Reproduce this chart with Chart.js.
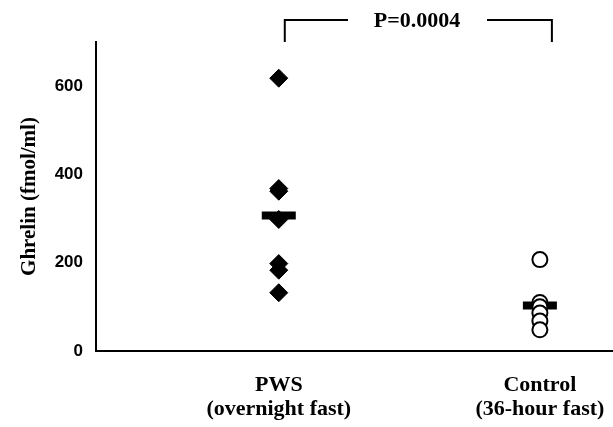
<!DOCTYPE html>
<html>
<head>
  <title>Ghrelin PWS vs Control</title>
  <script src="https://cdn.jsdelivr.net/npm/chart.js"></script>
  <style>
    body { margin: 0; background: white; }
    #wrap { width: 613px; height: 427px; }
  </style>
</head>
<body>
  <div id="wrap"><canvas id="chart"></canvas></div>

  <script>
    // values (fmol/ml)
    const groups = ['PWS', 'Control'];
    const groupLabels = [['PWS', '(overnight fast)'], ['Control', '(36-hour fast)']];
    const pwsValues = [618, 368, 362, 298, 198, 183, 132];
    const controlValues = [207, 110, 100, 86, 68, 48];
    const groupMeans = [307, 103];
    const yTicks = [0, 200, 400, 600];
    const pLabel = 'P=0.0004';

    const black = '#000';

    // bracket with the p-value above the two groups
    const bracket = {
      id: 'bracket',
      afterDraw(chart) {
        const ctx = chart.ctx;
        const x = chart.scales.x;
        const x1 = x.getPixelForValue(1) + 6;
        const x2 = x.getPixelForValue(2) + 12;
        const yTop = 20, yBot = 42;
        ctx.save();
        ctx.strokeStyle = black;
        ctx.lineWidth = 2;
        ctx.beginPath();
        ctx.moveTo(x1, yBot); ctx.lineTo(x1, yTop); ctx.lineTo(348, yTop);
        ctx.moveTo(487, yTop); ctx.lineTo(x2, yTop); ctx.lineTo(x2, yBot);
        ctx.stroke();
        ctx.fillStyle = black;
        ctx.font = 'bold 22px "Liberation Serif", serif';
        ctx.textAlign = 'center';
        ctx.textBaseline = 'middle';
        ctx.fillText(pLabel, 417, 21);
        ctx.restore();
      }
    };

    new Chart(document.getElementById('chart'), {
      type: 'scatter',
      data: {
        datasets: [
          {
            label: 'Control',
            data: controlValues.map(v => ({ x: 2, y: v })),
            pointStyle: 'circle',
            pointRadius: 7.5,
            pointBackgroundColor: 'white',
            pointBorderColor: black,
            pointBorderWidth: 2
          },
          {
            label: 'Mean',
            data: groupMeans.map((v, i) => ({ x: i + 1, y: v })),
            pointStyle: 'line',
            pointRadius: 17,
            pointBorderColor: black,
            pointBorderWidth: 8
          },
          {
            label: 'PWS',
            data: pwsValues.map(v => ({ x: 1, y: v })),
            pointStyle: 'rectRot',
            pointRadius: 9,
            pointBackgroundColor: black,
            pointBorderColor: black,
            pointBorderWidth: 1
          }
        ]
      },
      options: {
        responsive: true,
        maintainAspectRatio: false,
        animation: false,
        layout: { autoPadding: false, padding: { top: 42, right: 0, left: 0, bottom: 0 } },
        plugins: {
          legend: { display: false },
          tooltip: { enabled: false }
        },
        scales: {
          x: {
            type: 'linear',
            min: 0.3,
            max: 2.28,
            afterBuildTicks: s => { s.ticks = [{ value: 1 }, { value: 2 }]; },
            afterFit: s => { s.height = 76; s.paddingLeft = 0; s.paddingRight = 0; },
            grid: { display: false, drawTicks: false },
            border: { color: black, width: 2 },
            ticks: {
              color: black,
              padding: 22,
              maxRotation: 0,
              font: { family: '"Liberation Serif", serif', size: 22, weight: 'bold', lineHeight: 1.09 },
              callback: v => groupLabels[v - 1]
            }
          },
          y: {
            min: 0,
            max: 700,
            afterBuildTicks: s => { s.ticks = yTicks.map(v => ({ value: v })); },
            afterFit: s => { s.width = 96; s.paddingTop = 0; s.paddingBottom = 0; },
            grid: { display: false, drawTicks: true, tickLength: 9, tickColor: black, tickWidth: 2 },
            border: { color: black, width: 2 },
            ticks: {
              color: black,
              padding: 4,
              font: { family: '"Liberation Sans", Arial, sans-serif', size: 17, weight: 'bold' }
            },
            title: {
              display: true,
              text: 'Ghrelin (fmol/ml)',
              color: black,
              padding: { top: 17, bottom: 0 },
              font: { family: '"Liberation Serif", serif', size: 21, weight: 'bold' }
            }
          }
        }
      },
      plugins: [bracket]
    });
  </script>
</body>
</html>
